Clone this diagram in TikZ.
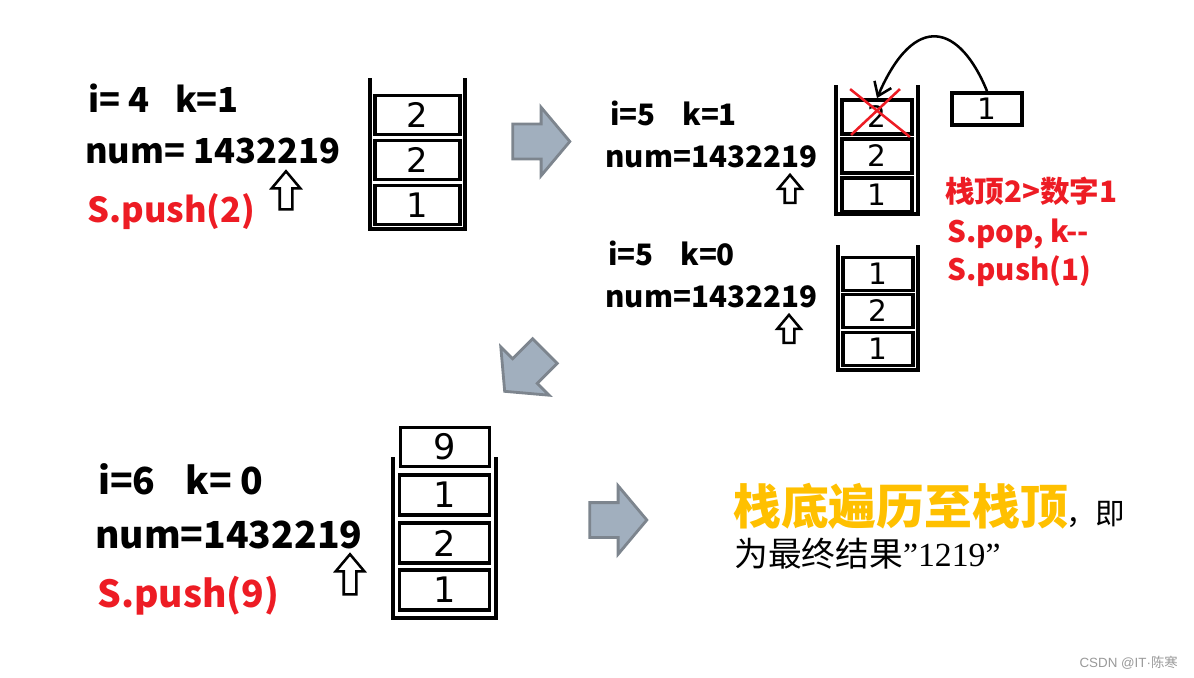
\documentclass[tikz,border=0pt]{standalone}
\usepackage{fontspec}
\setmainfont{Noto Sans CJK SC}
\newfontfamily\numserif{Liberation Serif}
\newfontfamily\marksans{Liberation Sans}
\newfontfamily\cellfont{DejaVu Sans}
\usetikzlibrary{shapes.arrows,arrows.meta,calc}

\definecolor{pushred}{RGB}{237,28,36}
\definecolor{gold}{RGB}{255,192,0}
\definecolor{arrfill}{RGB}{161,175,190}
\definecolor{arredge}{RGB}{125,133,142}

\newcommand{\fbig}{\fontsize{24.5}{28}\selectfont\bfseries}
\newcommand{\fmid}{\fontsize{21}{24}\selectfont\bfseries}
\newcommand{\fhuge}{\fontsize{26.5}{30}\selectfont\bfseries}

\begin{document}
\begin{tikzpicture}[x=0.025cm, y=-0.025cm,
	info/.style={anchor=base west, inner sep=0pt},
	wall/.style={line width=2.7pt},
	cell/.style={draw, line width=2.7pt, inner sep=0pt},
	up/.style={single arrow, draw, fill=white, line width=1.8pt, shape border rotate=90,
		inner sep=0.125cm, single arrow head extend=0.2cm, single arrow tip angle=80},
	next/.style={single arrow, draw=arredge, fill=arrfill, line width=2pt,
		inner sep=0.4cm, single arrow head extend=0.42cm, single arrow tip angle=100,
		minimum height=1.425cm},
	cross/.style={pushred, line width=1.8pt}]
	\useasboundingbox (0,0) rectangle (1194,677);

	% i=4
	\node[info, font=\fbig] (i1) at (88,112) {i= 4\hspace{0.75em}k=1};
	\node[info, font=\fbig] (n1) at (85,163) {num= 1432219};
	\node[info, font=\fbig, text=pushred] (p1) at (87,222) {S.push(2)};
	\node[up, minimum height=0.95cm] (u1) at (286,194) {};
	\draw[wall] (370,78) -- (370,229) -- (465,229) -- (465,78);
	\node[cell, minimum width=2.125cm, minimum height=0.975cm, font=\cellfont\fontsize{24}{24}\selectfont] (c11) at (417.5,115) {2};
	\node[cell, minimum width=2.125cm, minimum height=0.975cm, font=\cellfont\fontsize{24}{24}\selectfont] (c12) at (417.5,160) {2};
	\node[cell, minimum width=2.125cm, minimum height=0.975cm, font=\cellfont\fontsize{24}{24}\selectfont] (c13) at (417.5,205) {1};

	\node[next] (a1) at (534,141.5) {};

	% i=5, k=1
	\node[info, font=\fmid] (i2) at (610,125) {i=5\hspace{0.9em}k=1};
	\node[info, font=\fmid] (n2) at (605,167) {num=1432219};
	\node[up, minimum height=0.7cm, inner sep=0.1cm, single arrow head extend=0.16cm] (u2) at (790,192) {};
	\draw[wall] (836,85) -- (836,214) -- (918,214) -- (918,85);
	\node[cell, minimum width=1.75cm, minimum height=0.85cm, font=\cellfont\fontsize{21}{21}\selectfont] (c21) at (877,117) {2};
	\node[cell, minimum width=1.75cm, minimum height=0.85cm, font=\cellfont\fontsize{21}{21}\selectfont] (c22) at (877,156) {2};
	\node[cell, minimum width=1.75cm, minimum height=0.85cm, font=\cellfont\fontsize{21}{21}\selectfont] (c23) at (877,195) {1};
	\draw[cross] ($(c21.north west)+(10,-9)$) -- ($(c21.south east)+(-4,1)$);
	\draw[cross] ($(c21.south west)+(11,-1)$) -- ($(c21.north east)+(-14,-9)$);
	\node[cell, minimum width=1.75cm, minimum height=0.8cm, font=\cellfont\fontsize{21}{21}\selectfont] (one) at (987,109) {1};
	\draw[line width=1.8pt, -{Straight Barb[length=9pt, width=13pt]}] (one.north) .. controls (960,25) and (915,10) .. (c21.north);

	\node[info, font=\fmid, text=pushred] (r1) at (945,202) {栈顶2>数字1};
	\node[info, font=\fmid, text=pushred] (r2) at (947,242) {S.pop, k-\/-};
	\node[info, font=\fmid, text=pushred] (r3) at (947,280) {S.push(1)};

	% i=5, k=0
	\node[info, font=\fmid] (i3) at (608,265) {i=5\hspace{0.9em}k=0};
	\node[info, font=\fmid] (n3) at (605,307) {num=1432219};
	\node[up, minimum height=0.7cm, inner sep=0.1cm, single arrow head extend=0.16cm] (u3) at (789,332) {};
	\draw[wall] (838,245) -- (838,370) -- (918,370) -- (918,245);
	\node[cell, minimum width=1.75cm, minimum height=0.825cm, font=\cellfont\fontsize{21}{21}\selectfont] (c31) at (878,274) {1};
	\node[cell, minimum width=1.75cm, minimum height=0.825cm, font=\cellfont\fontsize{21}{21}\selectfont] (c32) at (878,311) {2};
	\node[cell, minimum width=1.75cm, minimum height=0.825cm, font=\cellfont\fontsize{21}{21}\selectfont] (c33) at (878,349) {1};

	\node[next, rotate=225] (a2) at (530,366) {};

	% i=6
	\node[info, font=\fhuge] (i4) at (98,494) {i=6\hspace{0.8em}k= 0};
	\node[info, font=\fhuge] (n4) at (95,548) {num=1432219};
	\node[info, font=\fhuge, text=pushred] (p4) at (97,607) {S.push(9)};
	\node[up, minimum height=1cm] (u4) at (350,578) {};
	\draw[wall] (393,457) -- (393,618) -- (496,618) -- (496,457);
	\node[cell, minimum width=2.225cm, minimum height=0.975cm, font=\cellfont\fontsize{25}{25}\selectfont] (c41) at (445,447) {9};
	\node[cell, minimum width=2.25cm, minimum height=1cm, font=\cellfont\fontsize{25}{25}\selectfont] (c42) at (444.5,495) {1};
	\node[cell, minimum width=2.25cm, minimum height=1cm, font=\cellfont\fontsize{25}{25}\selectfont] (c43) at (444.5,543) {2};
	\node[cell, minimum width=2.25cm, minimum height=1cm, font=\cellfont\fontsize{25}{25}\selectfont] (c44) at (444.5,590) {1};

	\node[next] (a3) at (611,520) {};

	% result
	\node[info, font=\fontsize{34}{38}\selectfont\bfseries, text=gold] (res) at (733,524) {栈底遍历至栈顶};
	\node[info, font=\fontsize{21}{24}\selectfont] (ji) at (1066,524) {，即};
	\node[info, font=\fontsize{24}{28}\selectfont] (fin) at (734,566) {为最终结果{\numserif ”1219”}};

	\node[anchor=base east, inner sep=0pt, font=\fontsize{9.5}{11}\selectfont, text=black!40] (mark) at (1178,667) {{\marksans CSDN @IT·}陈寒};
\end{tikzpicture}
\end{document}
